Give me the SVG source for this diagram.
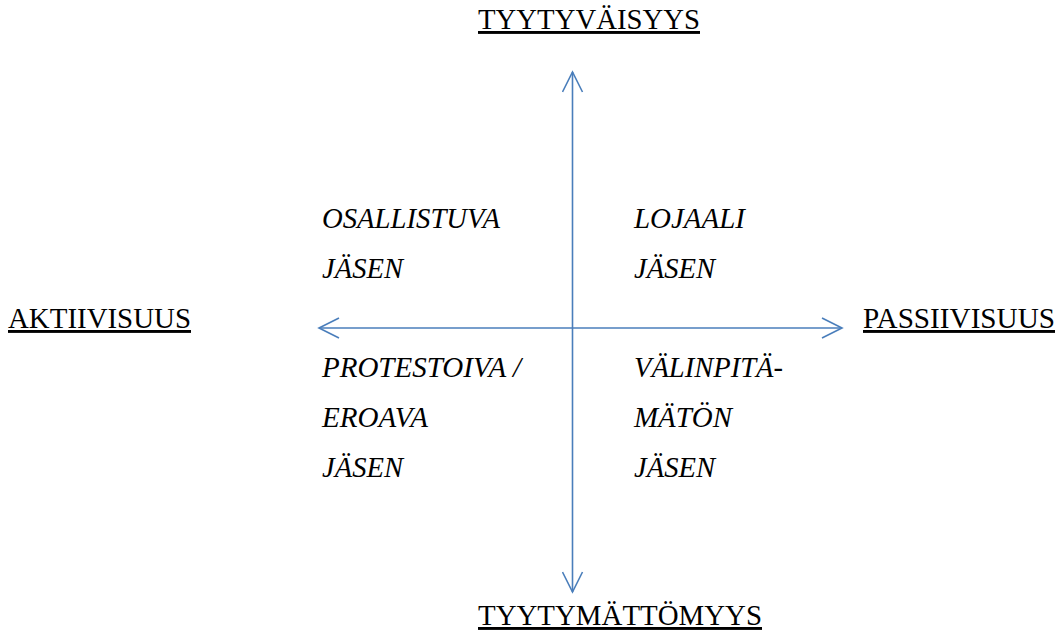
<svg xmlns="http://www.w3.org/2000/svg" width="1063" height="632" viewBox="0 0 1063 632">
<style>
text{font-family:"Liberation Serif","Times New Roman",Times,"DejaVu Serif","Noto Serif",serif;fill:#000}
.ax{font-size:29px;text-decoration:underline}
.lb{font-size:28.5px;font-style:italic}
.ln{stroke:#4A7EBB;stroke-width:1.6;fill:none}
</style>
<defs>
<marker id="ah" viewBox="-21 -11 23 22" refX="0" refY="0" markerWidth="23" markerHeight="22" markerUnits="userSpaceOnUse" orient="auto">
<path d="M-20,-10 L0,0 L-20,10" fill="none" stroke="#4A7EBB" stroke-width="1.6"/>
</marker>
</defs>
<rect width="1063" height="632" fill="#fff"/>
<g id="connectors">
<line class="ln" x1="572.5" y1="329" x2="572.5" y2="72" marker-end="url(#ah)"/>
<line class="ln" x1="572.5" y1="329" x2="572.5" y2="592" marker-end="url(#ah)"/>
<line class="ln" x1="572.5" y1="328" x2="319" y2="328" marker-end="url(#ah)"/>
<line class="ln" x1="572.5" y1="328" x2="842" y2="328" marker-end="url(#ah)"/>
</g>
<g id="top"><text class="ax" x="478" y="29" textLength="222" lengthAdjust="spacingAndGlyphs">TYYTYVÄISYYS</text></g>
<g id="bottom"><text class="ax" x="478" y="625" textLength="284" lengthAdjust="spacingAndGlyphs">TYYTYMÄTTÖMYYS</text></g>
<g id="left"><text class="ax" x="8" y="328" textLength="183" lengthAdjust="spacingAndGlyphs">AKTIIVISUUS</text></g>
<g id="right"><text class="ax" x="863" y="328" textLength="192" lengthAdjust="spacingAndGlyphs">PASSIIVISUUS</text></g>
<g id="q1"><text class="lb" x="322" y="228" textLength="178" lengthAdjust="spacingAndGlyphs">OSALLISTUVA</text><text class="lb" x="322" y="278" textLength="81" lengthAdjust="spacingAndGlyphs">JÄSEN</text></g>
<g id="q2"><text class="lb" x="634" y="228" textLength="111" lengthAdjust="spacingAndGlyphs">LOJAALI</text><text class="lb" x="634" y="278" textLength="81" lengthAdjust="spacingAndGlyphs">JÄSEN</text></g>
<g id="q3"><text class="lb" x="322" y="377" textLength="199" lengthAdjust="spacingAndGlyphs">PROTESTOIVA /</text><text class="lb" x="322" y="427" textLength="106" lengthAdjust="spacingAndGlyphs">EROAVA</text><text class="lb" x="322" y="477" textLength="81" lengthAdjust="spacingAndGlyphs">JÄSEN</text></g>
<g id="q4"><text class="lb" x="634" y="377" textLength="149" lengthAdjust="spacingAndGlyphs">VÄLINPITÄ-</text><text class="lb" x="634" y="427" textLength="98" lengthAdjust="spacingAndGlyphs">MÄTÖN</text><text class="lb" x="634" y="477" textLength="81" lengthAdjust="spacingAndGlyphs">JÄSEN</text></g>
</svg>
